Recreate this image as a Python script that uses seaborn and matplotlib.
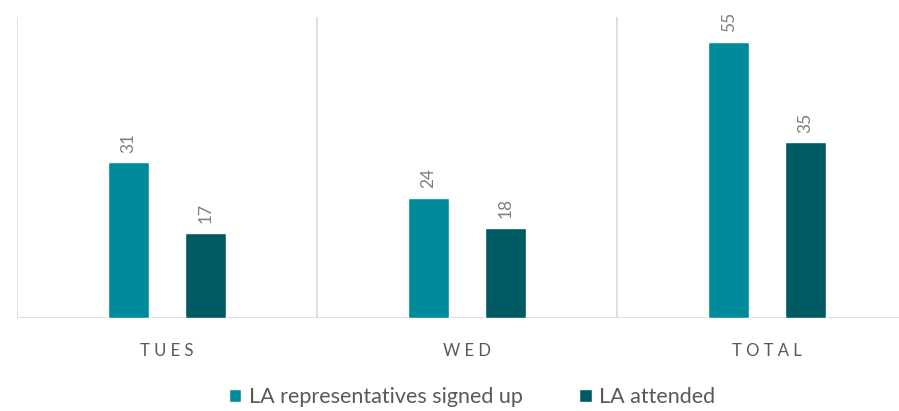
import matplotlib
matplotlib.use("Agg")
import matplotlib.pyplot as plt
import seaborn as sns
import pandas as pd

# Sessions and attendance counts
days = ["TUES", "WED", "TOTAL"]
signed_up = [31, 24, 55]
attended = [17, 18, 35]
series_names = ["LA representatives signed up", "LA attended"]
colors = ["#008B9A", "#005A64"]

df = pd.DataFrame({
    "day": days * 2,
    "count": signed_up + attended,
    "series": [series_names[0]] * len(days) + [series_names[1]] * len(days),
})

sns.set_theme(style="white")
plt.rcParams["font.family"] = ["Lato", "DejaVu Sans"]

fig = plt.figure(figsize=(8.99, 4.11), dpi=100)
ax = fig.add_axes([17 / 899, 1 - 318 / 411, 900 / 899, 301 / 411])

sns.barplot(data=df, x="day", y="count", hue="series", order=days,
            hue_order=series_names, palette=colors, width=0.513, gap=0.466,
            saturation=1, ax=ax, legend=True)

ax.set_ylim(0, 60)
ax.set_xlim(-0.5, 2.5)

# Category separators and baseline
for xv in [-0.5, 0.5, 1.5, 2.5]:
    ax.axvline(xv, color="#D9D9D9", lw=1.2, zorder=0)
ax.axhline(0, color="#D9D9D9", lw=1.2, zorder=0)

for c in ax.containers:
    ax.bar_label(c, rotation=90, padding=7, color="#7F7F7F", fontsize=12.5)

for s in ax.spines.values():
    s.set_visible(False)
ax.set_yticks([])
ax.set_xlabel("")
ax.set_ylabel("")
ax.set_xticks(range(len(days)))
ax.set_xticklabels([" ".join(d) for d in days], color="#595959", fontsize=12)
ax.tick_params(axis="x", length=0, pad=18)

handles, labels = ax.get_legend_handles_labels()
ax.legend_.remove()
fig.legend(handles, labels, loc="center", bbox_to_anchor=(472 / 899, 1 - 397 / 411),
           ncol=2, frameon=False, fontsize=15.5, labelcolor="#595959",
           handlelength=0.6, handleheight=0.6, handletextpad=0.35,
           columnspacing=2.6)

fig.savefig("out.png", dpi=100)
